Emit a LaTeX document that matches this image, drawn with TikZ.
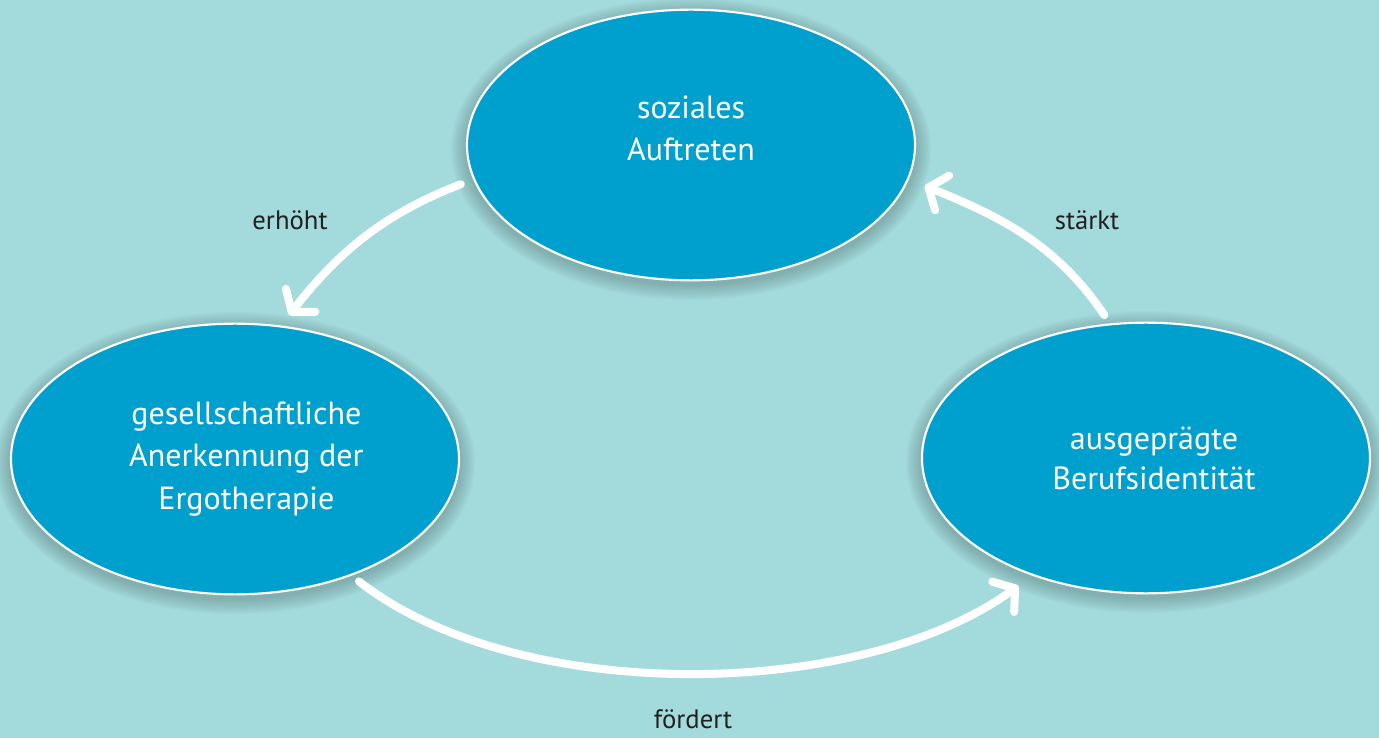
\documentclass[tikz,border=0pt]{standalone}
\usepackage{fontspec}
\setmainfont{PT Sans}
\usetikzlibrary{arrows.meta,shapes.geometric}
\definecolor{bgc}{HTML}{A3DADB}
\definecolor{blobc}{HTML}{00A0CE}
\definecolor{txtc}{HTML}{231F20}
\newcommand{\rs}[1]{\hspace*{#1}}
\tikzset{
  blob/.style={ellipse, fill=blobc, draw=white, line width=1.6pt, inner sep=0pt,
    minimum width=336pt, minimum height=203pt, text=white, align=center,
    font=\fontsize{24}{32}\selectfont},
  flow/.style={draw=white, line width=6pt, line cap=round,
    -{Straight Barb[length=11pt,width=28pt,line cap=round,round]}},
  lbl/.style={text=txtc, font=\fontsize{20}{24}\selectfont}
}
\begin{document}
\begin{tikzpicture}[x=0.75pt,y=-0.75pt]
\useasboundingbox (0,0) rectangle (1379,738);
\fill[bgc] (0,0) rectangle (1379,738);
% soft shadows
\foreach \cx/\cy in {691/145,235/459,1146/458}{
  \foreach \i in {1,...,10}{
    \fill[black,opacity=0.018] (\cx,\cy+4) ellipse [x radius=224+1.6*\i, y radius=135+1.6*\i];
  }
}
\node[blob] (top) at (691,145) {soziales\\Auftreten\\[-7pt]\mbox{}};
\node[blob] (left) at (235,459) {\rs{17pt}gesellschaftliche\\\rs{17pt}Anerkennung der\\\rs{17pt}Ergotherapie};
\node[blob, font=\fontsize{24}{30}\selectfont] (right) at (1146,458) {\rs{12pt}ausgeprägte\\\rs{12pt}Berufsidentität};
\draw[flow, shorten <=10pt, shorten >=10pt] (top.189.6) to[out=201, in=52] (left.71.9);
\draw[flow, shorten <=7.5pt, shorten >=13pt] (right.105.5) to[out=124, in=338] (top.-9.5);
\draw[flow, shorten <=7pt, shorten >=13pt] (left.-45.2) to[out=-38, in=216, looseness=0.8] (right.226.6);
\node[lbl] (l1) at (290,220) {erhöht};
\node[lbl] (l2) at (1087,220) {stärkt};
\node[lbl] (l3) at (693,719) {fördert};
\end{tikzpicture}
\end{document}
